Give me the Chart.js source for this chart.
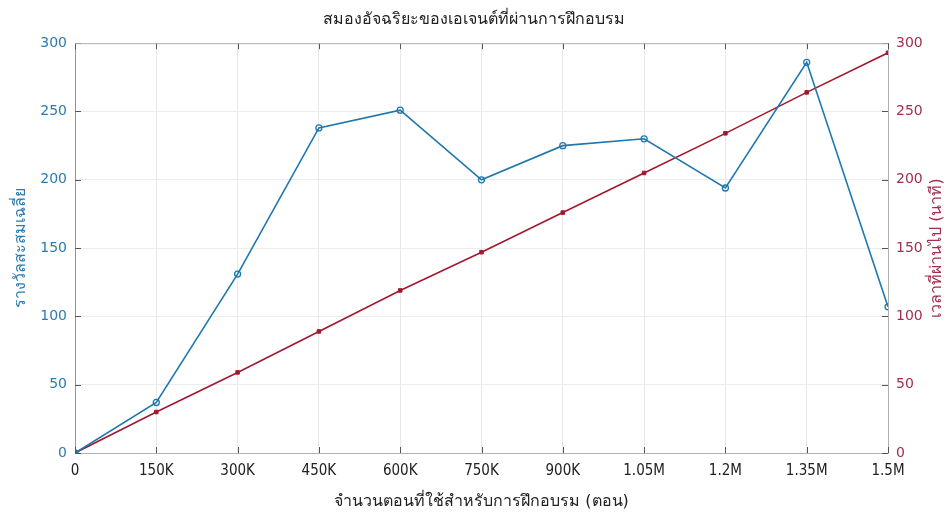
<!DOCTYPE html>
<html>
<head>
<meta charset="utf-8">
<script src="https://cdn.jsdelivr.net/npm/chart.js@4.4.1/dist/chart.umd.min.js"></script>
<style>
  body { margin: 0; background: #fff; }
</style>
</head>
<body>
<canvas id="chart" width="947" height="518"></canvas>
<script>
// training episodes (x), reward and elapsed time per checkpoint
const episodes = [0, 150000, 300000, 450000, 600000, 750000, 900000, 1050000, 1200000, 1350000, 1500000];
const xTickLabels = ['0', '150K', '300K', '450K', '600K', '750K', '900K', '1.05M', '1.2M', '1.35M', '1.5M'];
const avgReward = [0, 37, 131, 238, 251, 200, 225, 230, 194, 286, 107];
const trainMinutes = [0, 30, 59, 89, 119, 147, 176, 205, 234, 264, 293];

const blue = '#1f78ac';
const red = '#a2192f';
const rightTitle = 'เวลาที่ผ่านไป (นาที)';
const titleFont = 'Tahoma, "DejaVu Sans", sans-serif';

// MATLAB-like box with inward tick marks, plus right label read bottom-up
const boxPlugin = {
  id: 'boxPlugin',
  afterDraw(chart) {
    const ctx = chart.ctx;
    const a = chart.chartArea;
    const xs = chart.scales.x, yl = chart.scales.y, yr = chart.scales.y2;
    ctx.save();
    ctx.lineWidth = 1;
    ctx.strokeStyle = '#555';
    ctx.beginPath();
    xs.ticks.forEach(t => {
      const px = Math.round(xs.getPixelForValue(t.value)) + 0.5;
      ctx.moveTo(px, a.bottom); ctx.lineTo(px, a.bottom - 6);
      ctx.moveTo(px, a.top); ctx.lineTo(px, a.top + 6);
    });
    yl.ticks.forEach(t => {
      const py = Math.round(yl.getPixelForValue(t.value)) + 0.5;
      ctx.moveTo(a.left, py); ctx.lineTo(a.left + 6, py);
    });
    yr.ticks.forEach(t => {
      const py = Math.round(yr.getPixelForValue(t.value)) + 0.5;
      ctx.moveTo(a.right, py); ctx.lineTo(a.right - 6, py);
    });
    ctx.stroke();
    ctx.strokeStyle = '#b0b0b0';
    ctx.beginPath();
    ctx.moveTo(a.left, a.top + 0.5); ctx.lineTo(a.right, a.top + 0.5);
    ctx.stroke();

    ctx.translate(yr.right - 10, (a.top + a.bottom) / 2);
    ctx.rotate(-Math.PI / 2);
    ctx.fillStyle = '#a03050';
    ctx.font = '16px ' + titleFont;
    ctx.textAlign = 'center';
    ctx.textBaseline = 'middle';
    ctx.fillText(rightTitle, 0, 0);
    ctx.restore();
  }
};

const ctx = document.getElementById('chart').getContext('2d');
new Chart(ctx, {
  type: 'line',
  data: {
    datasets: [{
      label: 'reward',
      data: episodes.map((e, i) => ({ x: e, y: avgReward[i] })),
      borderColor: blue,
      backgroundColor: 'rgba(0,0,0,0)',
      borderWidth: 1.6,
      pointStyle: 'circle',
      pointRadius: 3,
      pointBorderWidth: 1.3,
      pointBorderColor: blue,
      yAxisID: 'y'
    }, {
      label: 'minutes',
      data: episodes.map((e, i) => ({ x: e, y: trainMinutes[i] })),
      borderColor: red,
      backgroundColor: red,
      borderWidth: 1.6,
      pointStyle: 'rect',
      pointRadius: 2.5,
      pointBorderWidth: 1,
      yAxisID: 'y2'
    }]
  },
  options: {
    responsive: false,
    animation: false,
    layout: { padding: 0 },
    plugins: {
      legend: { display: false },
      tooltip: { enabled: false },
      title: {
        display: true,
        text: 'สมองอัจฉริยะของเอเจนต์ที่ผ่านการฝึกอบรม',
        color: '#222',
        font: { family: titleFont, size: 16, weight: 'normal' },
        padding: { top: 10, bottom: 14 }
      }
    },
    scales: {
      x: {
        type: 'linear',
        min: 0,
        max: 1500000,
        afterFit: s => { s.height = 65; },
        afterBuildTicks: s => { s.ticks = episodes.map(v => ({ value: v })); },
        ticks: {
          color: '#222',
          padding: 9,
          maxRotation: 0,
          font: { family: '"Liberation Sans Narrow", "DejaVu Sans Condensed", sans-serif', size: 15 },
          callback: v => xTickLabels[episodes.indexOf(v)]
        },
        grid: { color: '#e8e8e8', drawTicks: false },
        border: { color: '#b0b0b0' },
        title: {
          display: true,
          text: 'จำนวนตอนที่ใช้สำหรับการฝึกอบรม (ตอน)',
          color: '#222',
          font: { family: titleFont, size: 16 },
          padding: { top: 0, bottom: 7 }
        }
      },
      y: {
        position: 'left',
        min: 0,
        max: 300,
        afterFit: s => { s.width = 75; },
        ticks: {
          stepSize: 50,
          color: '#2c7bb0',
          padding: 8,
          font: { family: '"DejaVu Sans", sans-serif', size: 14 }
        },
        grid: { color: '#ececec', drawTicks: false },
        border: { color: '#7a9db5' },
        title: {
          display: true,
          text: 'รางวัลสะสมเฉลี่ย',
          color: '#2c7bb0',
          font: { family: titleFont, size: 16 },
          padding: { top: 11, bottom: 0 }
        }
      },
      y2: {
        position: 'right',
        min: 0,
        max: 300,
        afterFit: s => { s.width = 59; },
        ticks: {
          stepSize: 50,
          color: '#a03050',
          padding: 8,
          font: { family: '"DejaVu Sans", sans-serif', size: 14 }
        },
        grid: { drawOnChartArea: false, drawTicks: false },
        border: { color: '#b0b0b0' },
        title: { display: false }
      }
    }
  },
  plugins: [boxPlugin]
});
</script>
</body>
</html>
